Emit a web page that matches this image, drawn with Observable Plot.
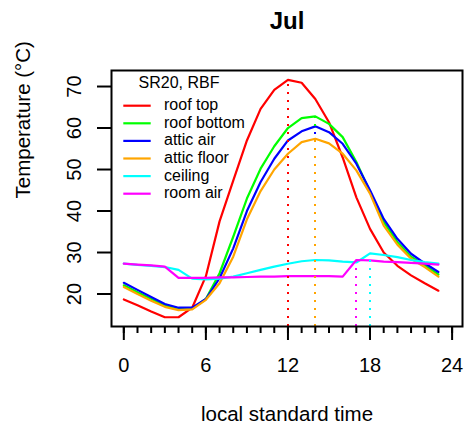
<!DOCTYPE html>
<html><head><meta charset="utf-8">
<script src="https://cdn.jsdelivr.net/npm/d3@7"></script>
<script src="https://cdn.jsdelivr.net/npm/@observablehq/plot@0.6"></script>
<style>body{margin:0;background:#fff}svg{display:block}</style>
</head><body><div id="chart"></div>
<script>
const title = "Jul";
const xLabel = "local standard time";
const yLabel = "Temperature (°C)";
const legendTitle = "SR20, RBF";
const hours = [0,1,2,3,4,5,6,7,8,9,10,11,12,13,14,15,16,17,18,19,20,21,22,23];
const xTicksMajor = [0, 6, 12, 18, 24];
const xTicksMinor = [0,1,2,3,4,5,6,7,8,9,10,11,12,13,14,15,16,17,18,19,20,21,22,23,24];
const yTicks = [20, 30, 40, 50, 60, 70];
const seriesNames = ["roof top", "roof bottom", "attic air", "attic floor", "ceiling", "room air"];
const seriesColors = ["#FF0000", "#00FF00", "#0000FF", "#FFA500", "#00FFFF", "#FF00FF"];
const roofTop    = [18.7, 17.3, 15.8, 14.4, 14.4, 16.7, 24.3, 37.5, 47.3, 57.0, 64.6, 69.2, 71.6, 70.9, 67.0, 61.4, 52.9, 43.3, 35.7, 30.0, 26.8, 24.5, 22.6, 20.8];
const roofBottom = [22.1, 20.4, 18.8, 17.2, 16.4, 16.5, 18.8, 25.0, 33.8, 43.0, 50.2, 55.6, 60.0, 62.4, 62.8, 61.0, 57.8, 51.8, 44.6, 37.3, 32.5, 29.0, 26.9, 24.7];
const atticAir   = [22.7, 21.0, 19.3, 17.6, 16.7, 16.7, 18.8, 23.8, 31.0, 40.0, 47.0, 52.6, 57.0, 59.2, 60.4, 59.0, 56.2, 51.4, 45.0, 38.1, 33.3, 29.7, 27.4, 25.3];
const atticFloor = [21.7, 20.0, 18.4, 16.9, 16.1, 16.3, 18.6, 22.6, 29.0, 38.0, 44.8, 50.0, 53.8, 56.6, 57.4, 56.3, 53.8, 49.8, 44.2, 36.5, 31.9, 28.5, 26.5, 24.2];
const ceiling    = [27.3, 27.0, 26.8, 26.5, 25.8, 23.7, 23.5, 23.7, 24.2, 25.0, 25.8, 26.6, 27.3, 27.9, 28.2, 28.1, 27.8, 27.6, 29.8, 29.4, 28.9, 28.2, 27.7, 27.3];
const roomAir    = [27.3, 27.1, 26.9, 26.6, 23.9, 23.9, 23.9, 24.0, 24.0, 24.1, 24.2, 24.2, 24.3, 24.3, 24.3, 24.3, 24.2, 28.2, 28.1, 27.8, 27.7, 27.5, 27.3, 27.1];
const seriesValues = [roofTop, roofBottom, atticAir, atticFloor, ceiling, roomAir];

const W = 466, H = 425;
const mL = 111, mR = 4, mT = 70, mB = 99;
const xDomain = [-0.9, 24.76];
const yDomain = [12.17, 73.86];
const FONT = "'Liberation Sans', Arial, Helvetica, sans-serif";

const lineMarks = seriesValues.map((vals, s) =>
  Plot.line(hours.map((h, i) => ({h, t: vals[i]})), {x: "h", y: "t", stroke: seriesColors[s], strokeWidth: 2.2})
);
const peakMarks = seriesValues.map((vals, s) => {
  const k = d3.maxIndex(vals);
  return Plot.ruleX([{h: hours[k], t: vals[k]}], {x: "h", y1: () => yDomain[0], y2: "t",
    stroke: seriesColors[s], strokeWidth: 2, strokeDasharray: "2,6", shapeRendering: "crispEdges"});
});

function legendMark(index, scales, values, dims) {
  const left = dims && dims.marginLeft != null ? dims.marginLeft : mL;
  const top = dims && dims.marginTop != null ? dims.marginTop : mT;
  const g = d3.create("svg:g").attr("font-family", FONT).attr("font-size", 16).attr("text-anchor", "start");
  g.append("text").attr("x", left + 68).attr("y", top + 18).attr("text-anchor", "middle").attr("fill", "black").text(legendTitle);
  seriesNames.forEach((n, i) => {
    const y = top + 35.7 + 17.6 * i;
    g.append("line").attr("x1", left + 12.3).attr("x2", left + 39.7).attr("y1", y).attr("y2", y)
      .attr("stroke", seriesColors[i]).attr("stroke-width", 2.2);
    g.append("text").attr("x", left + 53).attr("y", y + 4.5).attr("text-anchor", "start").attr("fill", "black").text(n);
  });
  return g.node();
}

const chart = Plot.plot({
  width: W, height: H,
  marginLeft: mL, marginRight: mR, marginTop: mT, marginBottom: mB,
  style: {fontFamily: FONT, background: "white", color: "black", overflow: "visible"},
  x: {domain: xDomain},
  y: {domain: yDomain},
  marks: [
    ...lineMarks,
    ...peakMarks,
    Plot.frame({stroke: "black", strokeWidth: 2}),
    Plot.axisX(xTicksMinor, {tickSize: 7, strokeWidth: 2, text: null, label: null}),
    Plot.axisX(xTicksMajor, {tickSize: 14, strokeWidth: 2, tickPadding: 17, fontSize: 20, label: null, tickFormat: d => String(d)}),
    Plot.axisY(yTicks, {tickSize: 14, strokeWidth: 2, tickPadding: 17, tickRotate: -90, fontSize: 20, label: null, tickFormat: d => String(d)}),
    Plot.text([title], {frameAnchor: "top", dy: -42, lineAnchor: "bottom", fontSize: 24, fontWeight: "bold", fill: "black"}),
    Plot.text([xLabel], {frameAnchor: "bottom", dy: 94.5, lineAnchor: "bottom", fontSize: 20.5, fill: "black"}),
    Plot.text([yLabel], {frameAnchor: "left", dx: -82, rotate: -90, lineAnchor: "bottom", fontSize: 20.5, fill: "black"}),
    legendMark
  ]
});
document.getElementById("chart").appendChild(chart);
</script>
</body></html>
